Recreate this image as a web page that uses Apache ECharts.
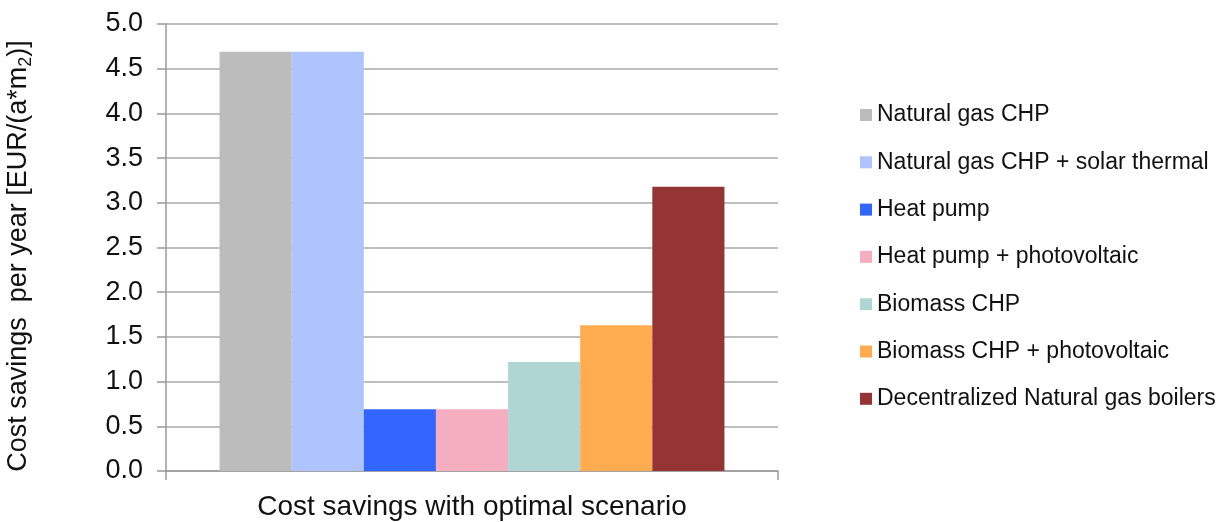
<!DOCTYPE html>
<html>
<head>
<meta charset="utf-8">
<script src="https://cdn.jsdelivr.net/npm/echarts@6/dist/echarts.min.js"></script>
<style>html,body{margin:0;padding:0;background:#fff;}#c{width:1231px;height:522px;}</style>
</head>
<body>
<div id="c"></div>
<script>
const categories = ['Cost savings with optimal scenario'];
const seriesNames = ['Natural gas CHP','Natural gas CHP + solar thermal','Heat pump','Heat pump + photovoltaic','Biomass CHP','Biomass CHP + photovoltaic','Decentralized Natural gas boilers'];
const seriesValues = [4.69, 4.69, 0.69, 0.69, 1.22, 1.63, 3.18];
const seriesColors = ['#bcbcbc','#afc4fc','#3366ff','#f4aebf','#b0d6d4','#ffab50','#943434'];
const yTicks = ['0.0','0.5','1.0','1.5','2.0','2.5','3.0','3.5','4.0','4.5','5.0'];

const FONT = 'Liberation Sans, Arial, sans-serif';
const chart = echarts.init(document.getElementById('c'), null, {renderer:'canvas'});
chart.setOption({
  animation:false,
  backgroundColor:'#fff',
  textStyle:{fontFamily:FONT},
  grid:{left:166,right:453,top:24,bottom:51,containLabel:false},
  legend:{
    orient:'vertical', left:855, top:98,
    itemWidth:12, itemHeight:12, itemGap:23.3,
    icon:'rect',
    textStyle:{fontFamily:FONT,fontSize:23,color:'#111',lineHeight:24},
    data:seriesNames
  },
  xAxis:{
    type:'category', data:categories,
    axisLine:{lineStyle:{color:'#9a9a9a',width:1.5}},
    axisTick:{show:true,length:9,lineStyle:{color:'#9a9a9a',width:1.5}},
    axisLabel:{fontFamily:FONT,fontSize:28,color:'#111',margin:22}
  },
  yAxis:{
    type:'value', min:0, max:5, interval:0.5,
    name:'Cost savings  per year [EUR/(a*m{sub|2})]',
    nameLocation:'middle', nameGap:131, nameRotate:90,
    nameTextStyle:{fontFamily:FONT,fontSize:27,color:'#111',padding:[0,17,0,0],
      rich:{sub:{fontFamily:FONT,fontSize:18,color:'#111',padding:[14,0,0,0]}}},
    axisLine:{show:true,lineStyle:{color:'#9a9a9a',width:1.5}},
    axisTick:{show:true,length:9,lineStyle:{color:'#9a9a9a',width:1.5}},
    splitLine:{lineStyle:{color:'#a8a8a8',width:1.5}},
    axisLabel:{fontFamily:FONT,fontSize:27,color:'#111',margin:23,
      formatter:function(v){return yTicks[Math.round(v/0.5)];}}
  },
  series: seriesNames.map(function(n,i){
    return {name:n,type:'bar',data:[seriesValues[i]],
      itemStyle:{color:seriesColors[i]},
      barGap:'0%', barCategoryGap:'17.5%'};
  })
});
</script>
</body>
</html>
